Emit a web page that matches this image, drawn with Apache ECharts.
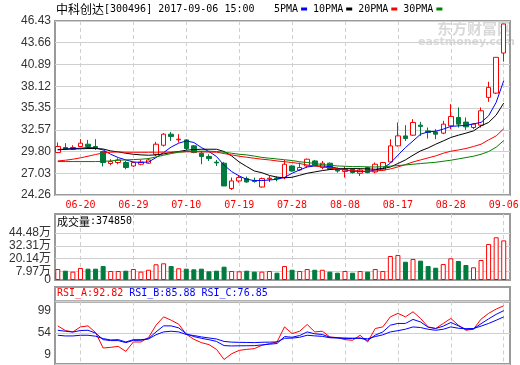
<!DOCTYPE html>
<html><head><meta charset="utf-8">
<script src="https://cdn.jsdelivr.net/npm/echarts@6/dist/echarts.min.js"></script>
<style>html,body{margin:0;padding:0;background:#fff}#c{width:520px;height:365px}</style>
</head><body><div id="c"></div>
<script>
const stockName = '中科创达';
const stockCode = '300496';
const stampTime = '2017-09-06 15:00';
const dates = ['06-15','06-16','06-19','06-20','06-21','06-22','06-23','06-26','06-27','06-28','06-29','06-30',
'07-03','07-04','07-05','07-06','07-07','07-10','07-11','07-12','07-13','07-14','07-17','07-18','07-19','07-20','07-21','07-24','07-25','07-26','07-27','07-28','07-31',
'08-01','08-02','08-03','08-04','08-07','08-08','08-09','08-10','08-11','08-14','08-15','08-16','08-17','08-18','08-21','08-22','08-23','08-24','08-25','08-28','08-29','08-30','08-31',
'09-01','09-04','09-05','09-06'];
const dateTicks = ['06-20','06-29','07-10','07-19','07-28','08-08','08-17','08-28','09-06'];
const openP = [29.67,30.31,30.09,30.44,30.73,30.44,29.80,28.27,28.40,28.40,
27.96,28.18,28.31,29.45,30.60,32.01,31.30,31.28,30.52,29.58,
29.16,28.45,28.31,25.08,26.05,26.35,26.10,25.28,26.30,26.42,
26.48,27.96,27.45,27.96,28.60,27.76,28.31,27.62,27.25,27.54,
27.03,27.76,27.20,27.45,28.47,30.52,31.79,31.88,33.16,32.43,
32.30,32.14,33.07,34.14,33.55,32.86,33.16,36.70,37.24,42.35];
const closeP = [30.44,30.09,30.31,30.86,30.44,30.18,28.40,28.52,28.73,27.76,
28.40,28.47,28.73,30.73,32.01,31.72,31.37,30.18,29.67,29.16,
28.90,28.35,25.41,26.05,26.48,25.92,25.98,26.35,26.40,26.35,
28.18,27.32,27.76,28.82,28.05,28.31,27.54,27.32,27.54,27.11,
27.45,27.11,28.18,28.40,30.52,31.79,31.46,33.50,33.00,32.23,
32.01,33.29,34.27,33.29,32.95,33.29,34.99,37.97,41.80,46.05];
const lowP = [29.60,30.00,30.00,30.40,30.18,30.00,27.90,28.05,28.18,27.54,
27.84,28.05,28.25,29.24,30.44,31.15,30.95,30.00,29.58,28.18,
28.60,27.96,25.41,24.90,25.84,25.84,25.84,25.20,25.92,26.00,
26.26,27.25,27.32,27.76,27.96,27.54,27.45,27.11,26.48,26.99,
26.69,27.03,27.03,27.32,28.40,30.44,31.15,31.79,31.79,31.46,
31.37,32.01,32.65,32.86,32.56,32.65,32.86,36.13,37.12,41.25];
const highP = [30.95,30.86,30.60,31.37,31.28,31.37,29.85,28.82,28.94,28.60,
28.43,28.73,28.95,31.03,32.14,32.30,32.01,31.37,30.60,29.88,
29.45,28.73,28.47,26.48,26.68,26.61,26.48,26.48,26.68,26.61,
28.73,28.05,28.40,28.90,28.73,28.60,28.40,27.76,27.88,27.67,
27.62,27.88,28.40,28.47,31.37,33.50,33.16,33.92,33.58,32.86,
32.65,33.71,35.84,35.42,34.14,33.42,35.42,38.69,41.80,46.05];
const ma5 = [30.00,30.09,30.18,30.22,30.31,30.26,30.00,29.45,29.03,28.73,
28.47,28.40,28.47,29.03,29.67,30.37,30.86,31.15,30.95,30.31,
29.80,29.16,28.05,27.25,26.68,26.26,26.10,26.10,26.17,26.26,
26.50,27.03,27.45,27.83,27.96,27.96,27.88,27.67,27.45,27.32,
27.25,27.25,27.45,27.67,28.31,29.33,30.31,31.15,32.01,32.30,
32.39,32.65,33.00,33.07,33.12,33.33,33.50,34.35,36.06,38.82];
const ma10 = [30.05,30.10,30.12,30.15,30.18,30.18,30.12,29.88,29.75,29.58,
29.45,29.37,29.33,29.37,29.50,29.67,29.80,29.97,30.05,30.09,
30.09,30.09,29.80,29.24,28.47,27.88,27.32,27.10,26.75,26.54,
26.45,26.52,26.77,27.03,27.20,27.37,27.50,27.58,27.62,27.62,
27.62,27.58,27.54,27.62,27.83,28.27,28.73,29.33,29.88,30.26,
30.73,31.15,31.59,31.88,32.14,32.43,33.07,33.50,34.44,35.97];
const ma20 = [28.60,28.69,28.82,28.99,29.20,29.42,29.62,29.71,29.75,29.71,
29.70,29.70,29.70,29.72,29.72,29.73,29.75,29.76,29.76,29.75,
29.73,29.71,29.54,29.37,29.20,29.07,28.94,28.82,28.73,28.60,
28.50,28.40,28.27,28.09,27.96,27.83,27.71,27.58,27.45,27.37,
27.32,27.28,27.32,27.41,27.58,27.83,28.14,28.47,28.73,28.99,
29.24,29.58,29.84,30.00,30.18,30.44,30.73,31.28,31.79,32.70];
const ma30 = [28.52,28.52,28.52,28.52,28.52,28.52,28.55,28.60,28.69,28.73,
28.77,28.82,28.90,29.11,29.33,29.54,29.71,29.80,29.84,29.84,
29.84,29.80,29.71,29.58,29.45,29.37,29.22,29.05,28.95,28.85,
28.75,28.65,28.50,28.40,28.27,28.14,28.05,27.96,27.92,27.88,
27.88,27.84,27.83,27.86,27.93,28.01,28.09,28.18,28.27,28.35,
28.43,28.56,28.69,28.86,29.03,29.20,29.45,29.80,30.35,31.20];
const volume = [104000,88000,79000,114000,107000,107000,132000,85000,85000,88000,
104000,79000,97000,149000,158000,132000,111000,107000,101000,107000,
82000,88000,126000,85000,82000,88000,79000,79000,85000,69000,
132000,97000,85000,104000,97000,97000,79000,69000,85000,69000,
85000,79000,104000,85000,227000,237000,173000,199000,183000,132000,
116000,151000,205000,180000,142000,120000,189000,341000,404000,374850];
const rsiA = [63.9,57.2,55.2,62.4,63.9,54.3,32.0,33.0,34.4,27.2,
40.7,40.7,47.0,64.9,76.9,72.1,66.3,51.8,44.6,39.8,
36.9,30.1,15.5,23.8,28.6,30.1,31.1,35.9,38.3,40.7,
62.4,52.8,56.2,65.9,55.2,56.2,47.9,47.0,44.1,43.1,
50.4,40.7,60.1,62.4,76.9,81.9,76.9,84.2,74.6,62.4,
60.1,67.4,74.6,64.9,57.6,59.1,73.6,81.9,88.1,92.82];
const rsiB = [57.6,56.2,55.0,57.2,57.6,53.5,44.1,42.7,42.7,39.8,
43.0,43.2,45.6,55.2,63.9,63.9,61.0,52.5,48.5,46.0,
44.0,41.5,35.5,35.0,35.2,35.3,35.4,36.5,37.5,38.5,
48.5,47.5,50.0,55.2,52.5,51.5,47.5,46.8,46.0,45.6,
46.5,43.0,50.5,55.2,64.9,67.4,67.4,73.2,69.5,62.0,
60.1,63.5,68.8,64.0,59.0,59.5,67.0,74.0,80.5,85.88];
const rsiC = [50.4,49.4,49.4,50.4,50.4,49.0,45.6,43.6,44.1,40.7,
44.0,44.0,45.1,51.1,55.2,56.2,55.2,51.5,50.0,48.0,
46.5,45.0,41.5,40.5,40.2,40.0,39.8,40.3,40.5,40.8,
46.0,46.3,47.5,50.4,49.5,48.8,46.8,46.4,46.2,46.2,
46.0,45.3,48.5,51.0,55.2,57.0,59.1,62.4,61.5,59.0,
57.6,59.0,62.4,60.5,59.8,60.1,63.5,67.4,72.0,76.85];
const priceTicks = [24.26,27.03,29.80,32.57,35.35,38.12,40.89,43.66,46.43];
const volTicks = [0,79700,201400,323100,444800];
const volMax = 624600;
const rsiTicks = [9,54,99];
const maNames = ['5PMA','10PMA','20PMA','30PMA'];

const RED = '#ff0000', GREEN = '#007a3d', BLUE = '#0000ff';
const maColors = ['#0000ff','#000000','#ff0000','#008000'];
const MONO = "'DejaVu Sans Mono', 'Noto Sans CJK SC'";
const SANS = "'Liberation Sans', 'Noto Sans CJK SC'";
const CJK = "'Noto Sans CJK SC'";
const FRAME = '#9a9a9a', GRIDC = '#cfcfcf';

const chart = echarts.init(document.getElementById('c'), null, {renderer: 'canvas'});
const isTick = (i, v) => dateTicks.indexOf(v) >= 0;
const L = 55, W = 455, DL = 54, DW = 453.5;
const grids = [
  {left: L, top: 21, width: W, height: 174},
  {left: DL, top: 21, width: DW, height: 174},
  {left: L, top: 214, width: W, height: 66},
  {left: DL, top: 214, width: DW, height: 66},
  {left: L, top: 287, width: W, height: 14.5},
  {left: L, top: 301.5, width: W, height: 62.5},
  {left: DL, top: 301.5, width: DW, height: 62.5}
].map((g, k) => Object.assign({
  show: [0, 2, 4, 5].indexOf(k) >= 0, borderColor: FRAME, borderWidth: 2,
  backgroundColor: 'transparent', containLabel: false, outerBoundsMode: 'none'
}, g));

const hiddenX = gi => ({type: 'value', gridIndex: gi, min: 0, max: 1, show: false});
const catX = (gi, labels) => ({
  type: 'category', gridIndex: gi, data: dates, boundaryGap: true,
  axisLine: {show: false}, axisTick: {show: false},
  axisLabel: {show: labels, interval: isTick, color: RED, fontFamily: MONO, fontSize: 10, margin: 5},
  splitLine: {show: true, alignWithLabel: true, interval: isTick,
    lineStyle: {color: GRIDC, type: [4, 3], width: 1}}
});
const hiddenY = (gi, mn, mx) => ({type: 'value', gridIndex: gi, min: mn, max: mx, show: false});
const volFmt = v => v === 0 ? '0' : (v / 10000).toFixed(2) + '万';
const volUpper = volTicks.filter(v => v > 0);
const volZero = volTicks.filter(v => v === 0);

const upDay = closeP.map((c, i) => c >= openP[i]);

const option = {
  animation: false,
  backgroundColor: '#fff',
  title: [
    {left: 56, top: 3, padding: 0,
     text: '{c|' + stockName + '}{a|[' + stockCode + '] ' + stampTime + '}',
     textStyle: {rich: {c: {fontFamily: CJK, fontSize: 12, color: '#000', fontWeight: 'normal'},
                        a: {fontFamily: MONO, fontSize: 10, color: '#000', fontWeight: 'normal'}}}},
    {left: 57, top: 216, padding: 0,
     text: '{c|成交量}{a|:' + volume[volume.length - 1] + '}',
     textStyle: {rich: {c: {fontFamily: CJK, fontSize: 11, color: '#000', fontWeight: 'normal'},
                        a: {fontFamily: MONO, fontSize: 10, color: '#000', fontWeight: 'normal'}}}},
    {left: 57, top: 288, padding: 0,
     text: '{r|RSI_A:' + rsiA[rsiA.length - 1].toFixed(2) + '} {b|RSI_B:' + rsiB[rsiB.length - 1].toFixed(2) + '} {b|RSI_C:' + rsiC[rsiC.length - 1].toFixed(2) + '}',
     textStyle: {fontFamily: MONO, fontSize: 10, fontWeight: 'normal',
       rich: {r: {fontFamily: MONO, fontSize: 10, color: RED, fontWeight: 'normal'}, b: {fontFamily: MONO, fontSize: 10, color: BLUE, fontWeight: 'normal'}}}}
  ],
  legend: {
    left: 274, top: 4, padding: 0, itemGap: 6, itemWidth: 6, itemHeight: 3,
    align: 'right', icon: 'rect', selectedMode: false, data: maNames,
    textStyle: {fontFamily: MONO, fontSize: 10, color: '#000', padding: [0, -2, 0, 0]}
  },
  graphic: [
    {type: 'text', left: 437, top: 21, z: -10, style: {text: '东方财富网', font: "bold 15px 'Noto Sans CJK SC'", fill: '#d9d9d9'}},
    {type: 'text', left: 418, top: 37, z: -10, style: {text: 'eastmoney.com', font: "bold 11px 'DejaVu Sans'", fill: '#d9d9d9'}}
  ],
  grid: grids,
  xAxis: [hiddenX(0), catX(1, true), hiddenX(2), catX(3, false), hiddenX(4), hiddenX(5), catX(6, false)],
  yAxis: [
    {type: 'value', gridIndex: 0, min: priceTicks[0], max: priceTicks[priceTicks.length - 1],
     axisLine: {show: false}, axisTick: {show: false, customValues: priceTicks},
     axisLabel: {customValues: priceTicks, hideOverlap: false, formatter: v => v.toFixed(2), color: '#333', fontFamily: SANS, fontSize: 12, margin: 4},
     splitLine: {show: true, lineStyle: {color: GRIDC, width: 1}}},
    hiddenY(1, priceTicks[0], priceTicks[priceTicks.length - 1]),
    {type: 'value', gridIndex: 2, min: 0, max: volMax,
     axisLine: {show: false}, axisTick: {show: false, customValues: volUpper},
     axisLabel: {customValues: volUpper, hideOverlap: false, formatter: volFmt,
       color: '#333', fontFamily: SANS, fontSize: 12, margin: 4},
     splitLine: {show: true, lineStyle: {color: GRIDC, width: 1}}},
    {type: 'value', gridIndex: 3, min: 0, max: volMax,
     axisLine: {show: false}, axisTick: {show: false, customValues: volZero}, splitLine: {show: false},
     axisLabel: {customValues: volZero, hideOverlap: false, showMinLabel: true, formatter: volFmt,
       color: '#333', fontFamily: SANS, fontSize: 12, margin: 3, padding: [0, 0, 3, 0]}},
    hiddenY(4, 0, 1),
    {type: 'value', gridIndex: 5, min: rsiTicks[0], max: rsiTicks[rsiTicks.length - 1],
     axisLine: {show: false}, axisTick: {show: false, customValues: rsiTicks},
     axisLabel: {customValues: rsiTicks, hideOverlap: false, lineHeight: 18,
       formatter: v => v === rsiTicks[rsiTicks.length - 1] ? '\n' + v : (v === rsiTicks[0] ? v + '\n' : String(v)),
       color: '#333', fontFamily: SANS, fontSize: 12, margin: 4},
     splitLine: {show: true, lineStyle: {color: GRIDC, width: 1}}},
    hiddenY(6, rsiTicks[0], rsiTicks[rsiTicks.length - 1])
  ],
  series: [
    {type: 'candlestick', name: 'K', xAxisIndex: 1, yAxisIndex: 1, barWidth: 5,
     data: dates.map((d, i) => [openP[i], closeP[i], lowP[i], highP[i]]),
     itemStyle: {color: '#ffffff', color0: GREEN, borderColor: RED, borderColor0: GREEN, borderColorDoji: RED, borderWidth: 1}},
    ...maNames.map((n, k) => ({
      type: 'line', name: n, xAxisIndex: 1, yAxisIndex: 1, data: [ma5, ma10, ma20, ma30][k],
      symbol: 'none', smooth: false, z: 3,
      itemStyle: {color: maColors[k]}, lineStyle: {color: maColors[k], width: 1}
    })),
    {type: 'bar', name: 'VOL', xAxisIndex: 3, yAxisIndex: 3, barWidth: 5,
     data: volume.map((v, i) => ({value: v, itemStyle: {
       color: upDay[i] ? '#ffffff' : GREEN, borderColor: upDay[i] ? RED : GREEN, borderWidth: 1}}))},
    {type: 'line', name: 'RSI_A', xAxisIndex: 6, yAxisIndex: 6, data: rsiA, symbol: 'none', lineStyle: {color: RED, width: 1}, itemStyle: {color: RED}},
    {type: 'line', name: 'RSI_B', xAxisIndex: 6, yAxisIndex: 6, data: rsiB, symbol: 'none', lineStyle: {color: BLUE, width: 1}, itemStyle: {color: BLUE}},
    {type: 'line', name: 'RSI_C', xAxisIndex: 6, yAxisIndex: 6, data: rsiC, symbol: 'none', lineStyle: {color: BLUE, width: 1}, itemStyle: {color: BLUE}}
  ]
};
chart.setOption(option);
</script>
</body></html>
